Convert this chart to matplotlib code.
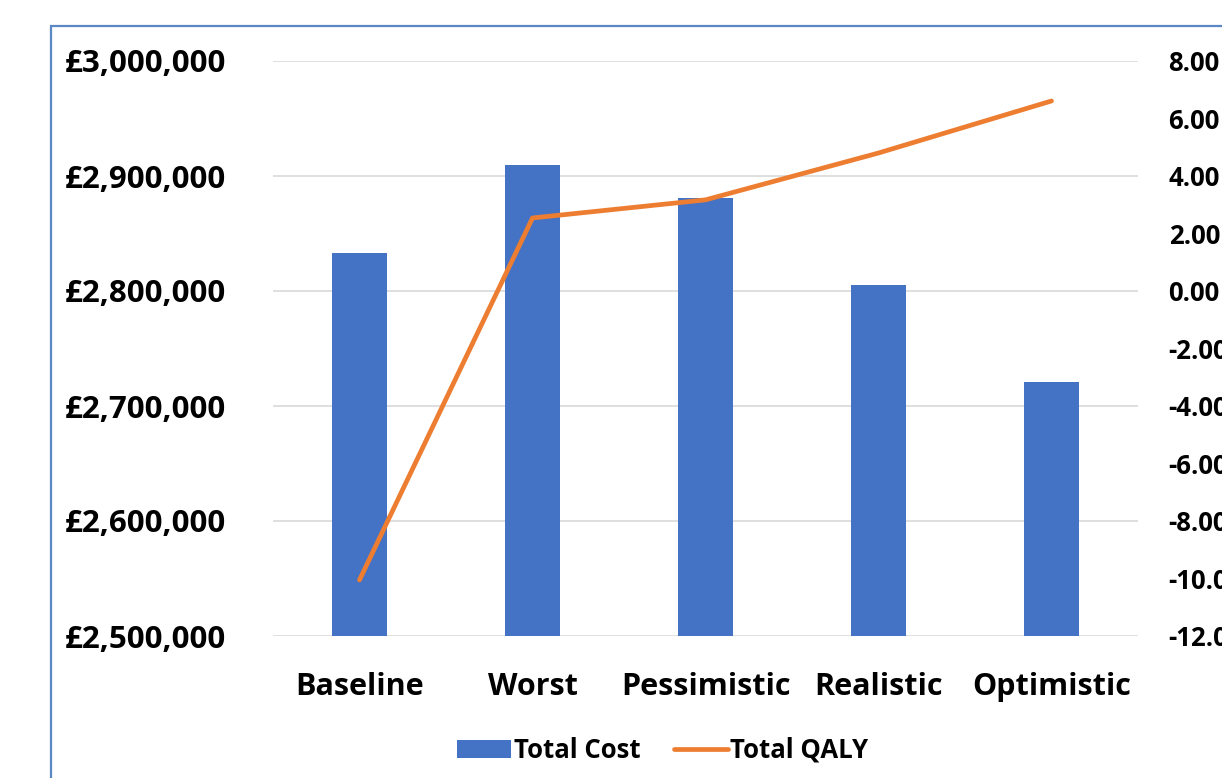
import matplotlib.pyplot as plt
from matplotlib.patches import Rectangle
from matplotlib.ticker import FuncFormatter

scenarios = ['Baseline', 'Worst', 'Pessimistic', 'Realistic', 'Optimistic']
total_cost = [2833000, 2910000, 2881000, 2805000, 2721000]
total_qaly = [-10.05, 2.54, 3.17, 4.80, 6.61]

BLUE = '#4472C4'
ORANGE = '#ED7D31'
FONT = 'Open Sans'

W, H = 1222, 778
fig = plt.figure(figsize=(W / 100, H / 100), dpi=100)

# chart area border (cut off at right and bottom, like the screenshot)
fig.patches.append(Rectangle((51 / W, -0.1), 1.2, 1.1 - 26 / H, transform=fig.transFigure,
                             fill=False, edgecolor='#5B87C5', linewidth=1.6))

ax = fig.add_axes([273 / W, 1 - 636 / H, (1138 - 273) / W, (636 - 61) / H])
x = range(len(scenarios))
bars = ax.bar(x, total_cost, width=0.32, color=BLUE, label='Total Cost', zorder=2)
ax.set_ylim(2500000, 3000000)
ax.set_xlim(-0.5, 4.5)
ax.set_yticks(range(2500000, 3000001, 100000))
ax.yaxis.set_major_formatter(FuncFormatter(lambda v, p: '£{:,.0f}'.format(v)))
ax.grid(axis='y', color='#D9D9D9', linewidth=1.2, zorder=0)
ax.set_axisbelow(True)
for s in ax.spines.values():
    s.set_visible(False)
ax.tick_params(axis='both', length=0)
ax.tick_params(axis='y', pad=34)
ax.tick_params(axis='x', pad=26)
ax.set_xticks(list(x))
ax.set_xticklabels(scenarios)
for lab in ax.get_xticklabels():
    lab.set_fontfamily(FONT)
    lab.set_fontweight('bold')
    lab.set_fontsize(22)
for lab in ax.get_yticklabels():
    lab.set_fontfamily(FONT)
    lab.set_fontweight('bold')
    lab.set_fontsize(22.5)

ax2 = ax.twinx()
line, = ax2.plot(list(x), total_qaly, color=ORANGE, linewidth=3.4, label='Total QALY',
                 solid_capstyle='round', zorder=3)
ax2.set_ylim(-12, 8)
ax2.set_yticks(range(-12, 9, 2))
ax2.yaxis.set_major_formatter(FuncFormatter(lambda v, p: '{:.2f}'.format(v)))
for s in ax2.spines.values():
    s.set_visible(False)
ax2.tick_params(axis='y', length=0, pad=22)
for lab in ax2.get_yticklabels():
    lab.set_fontfamily(FONT)
    lab.set_fontweight('bold')
    lab.set_fontsize(18.5)

fig.legend([bars, line], ['Total Cost', 'Total QALY'], loc='center', bbox_to_anchor=(663 / W, 1 - 750 / H),
           ncol=2, frameon=False, handlelength=2.1, handletextpad=0.1, columnspacing=1.3,
           prop={'family': FONT, 'weight': 'bold', 'size': 18.5})

fig.savefig('out.png', dpi=100)
